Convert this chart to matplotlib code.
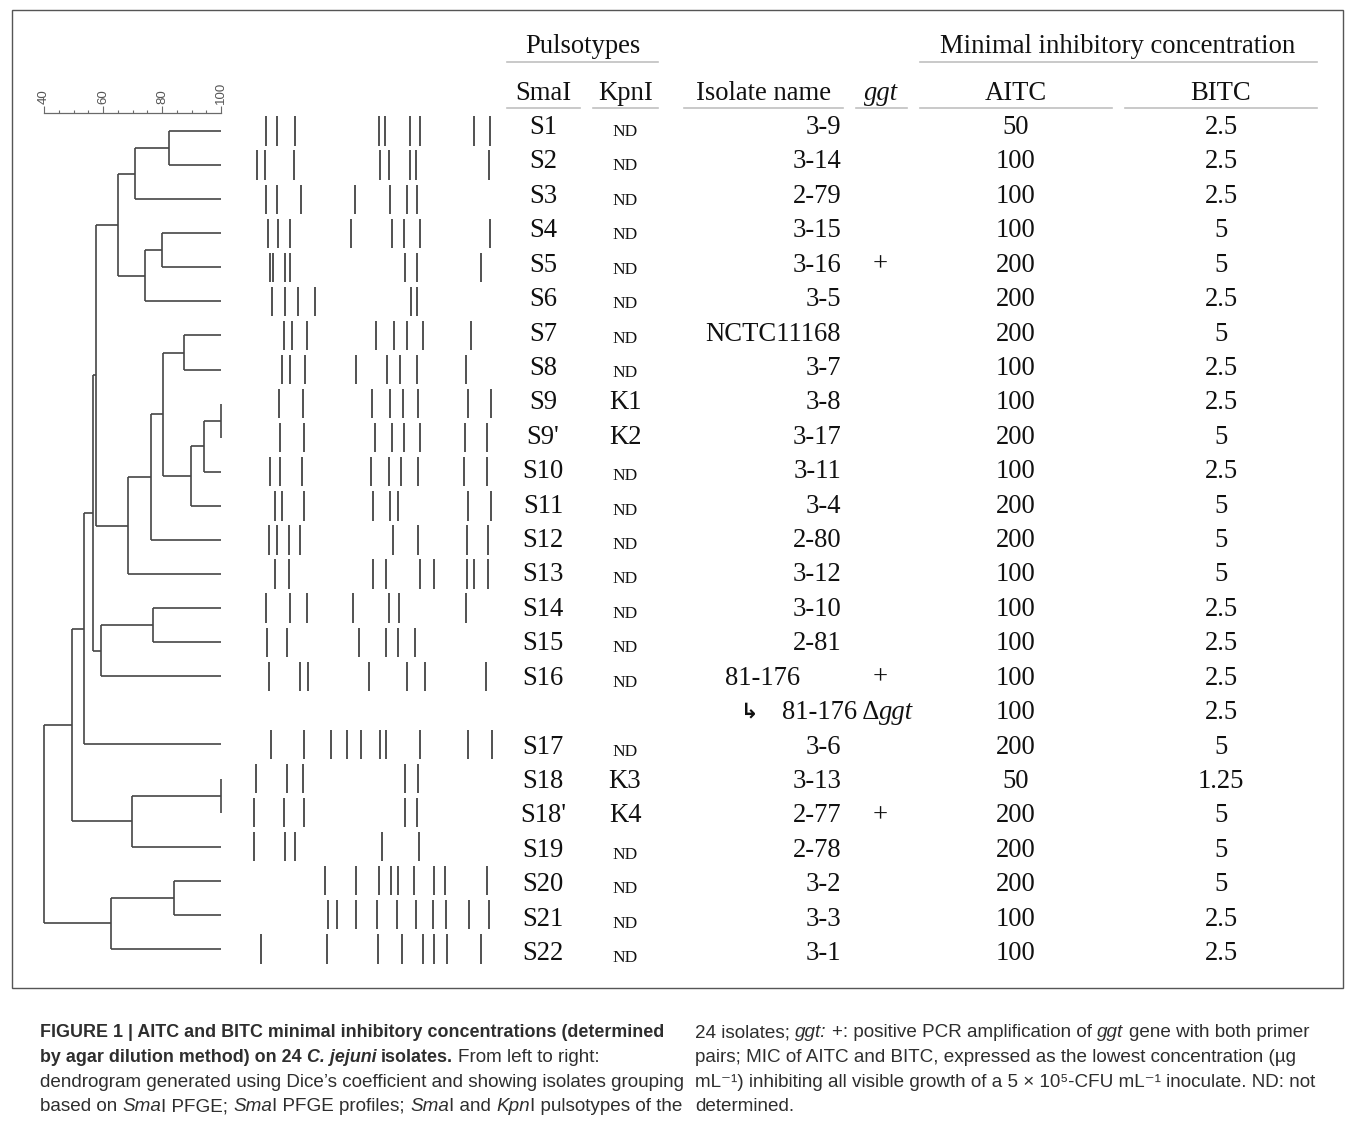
import matplotlib
matplotlib.use("Agg")
import matplotlib.pyplot as plt
from matplotlib.patches import Rectangle

# ---------------- data ----------------
smaI = ["S1", "S2", "S3", "S4", "S5", "S6", "S7", "S8", "S9", "S9'", "S10", "S11",
        "S12", "S13", "S14", "S15", "S16", "", "S17", "S18", "S18'", "S19", "S20",
        "S21", "S22"]
kpnI = ["ND"] * 8 + ["K1", "K2"] + ["ND"] * 7 + [""] + ["ND", "K3", "K4"] + ["ND"] * 4
isolates = ["3-9", "3-14", "2-79", "3-15", "3-16", "3-5", "NCTC11168", "3-7", "3-8",
            "3-17", "3-11", "3-4", "2-80", "3-12", "3-10", "2-81", "81-176",
            "81-176 Δggt", "3-6", "3-13", "2-77", "2-78", "3-2", "3-3", "3-1"]
ggt = ["", "", "", "", "+", "", "", "", "", "", "", "", "", "", "", "", "+", "", "",
       "", "+", "", "", "", ""]
aitc = [50, 100, 100, 100, 200, 200, 200, 100, 100, 200, 100, 200, 200, 100, 100, 100,
        100, 100, 200, 50, 200, 200, 200, 100, 100]
bitc = [2.5, 2.5, 2.5, 5, 5, 2.5, 5, 2.5, 2.5, 5, 2.5, 5, 5, 5, 2.5, 2.5, 2.5, 2.5, 5,
        1.25, 5, 5, 5, 2.5, 2.5]

# SmaI PFGE band positions (relative migration units, 0-250)
bands = {
    "S1": [16, 27, 44.7, 128.7, 135.3, 160.3, 170, 224, 240],
    "S2": [6.7, 15, 44, 130.3, 138.7, 160, 165.7, 239.3],
    "S3": [15.7, 27, 51.3, 104.7, 139.7, 157.3, 166.7],
    "S4": [18, 28, 39.7, 101, 142, 153.7, 170.3, 239.7],
    "S5": [20.3, 23.3, 34.7, 39.7, 155, 166.7, 231],
    "S6": [22.3, 34.7, 47.7, 65.3, 161.3, 167],
    "S7": [33.7, 41.7, 56.7, 125.7, 144.3, 156.7, 173, 221.3],
    "S8": [31.7, 40, 55, 105.7, 137.3, 149.7, 167.3, 215.7],
    "S9": [29, 52.7, 122.3, 139.7, 153.3, 168, 217.7, 240.7],
    "S9'": [29.7, 54, 125, 142, 153.7, 170.3, 215, 237],
    "S10": [19.7, 30.3, 52.3, 121, 138.7, 151, 168, 214.3, 237],
    "S11": [24.7, 32, 54, 122.7, 139.7, 148, 218, 241.3],
    "S12": [18.7, 26.7, 39.3, 50, 143.3, 168.3, 217, 238],
    "S13": [24.7, 39.3, 123.3, 136.3, 170, 184.3, 217, 224, 238],
    "S14": [16.3, 40, 57, 102.7, 138.7, 148.7, 216],
    "S15": [16.7, 36.7, 109, 135.7, 148, 164.7],
    "S16": [19.3, 50.3, 58, 118.7, 157.3, 175, 236],
    "S17": [21.3, 54, 80.7, 97, 110.7, 129.7, 135.7, 170.3, 218.3, 242],
    "S18": [5.7, 36.7, 53, 154.7, 167.7],
    "S18'": [4.3, 33.7, 54, 155, 167],
    "S19": [4.3, 34.7, 45.3, 132.3, 169.3],
    "S20": [75, 105.7, 128.7, 140.7, 147.7, 164, 184.3, 195, 237.3],
    "S21": [77.7, 87.3, 106, 126.7, 146.7, 165.7, 182.7, 196.3, 218.7, 238.7],
    "S22": [10.7, 77.3, 127.7, 151.7, 173, 184.3, 197.3, 230.7],
}

# Dendrogram (Dice similarity, %): (node, child_a, child_b, similarity)
merges = [
    ("n1", "S1", "S2", 82.4), ("n2", "n1", "S3", 70.9),
    ("n3", "S4", "S5", 80.1), ("n4", "n3", "S6", 74.2),
    ("n5", "n2", "n4", 65.0), ("n6", "S7", "S8", 87.5),
    ("n7", "S9", "S9'", 100.0), ("n8", "n7", "S10", 94.1),
    ("n9", "n8", "S11", 89.8), ("n10", "n6", "n9", 80.2),
    ("n11", "n10", "S12", 76.2), ("n12", "n11", "S13", 68.4),
    ("n13", "n5", "n12", 57.6), ("n14", "S14", "S15", 77.0),
    ("n15", "n14", "S16", 59.3), ("n16", "n13", "n15", 56.7),
    ("n17", "n16", "S17", 53.5), ("n18", "S18", "S18'", 100.0),
    ("n19", "n18", "S19", 69.9), ("n20", "n17", "n19", 49.4),
    ("n21", "S20", "S21", 84.2), ("n22", "n21", "S22", 62.7),
    ("n23", "n20", "n22", 40.0),
]
scale_major = [40, 60, 80, 100]
scale_minor = [45, 50, 55, 65, 70, 75, 85, 90, 95]

col_headers = ["SmaI", "KpnI", "Isolate name", "ggt", "AITC", "BITC"]
group_headers = ["Pulsotypes", "Minimal inhibitory concentration"]

# ---------------- figure ----------------
W, H = 1355, 1124
fig = plt.figure(figsize=(W / 100, H / 100), dpi=100)
ax = fig.add_axes([0, 0, 1, 1])
ax.set_xlim(0, W)
ax.set_ylim(H, 0)
ax.axis("off")
renderer = fig.canvas.get_renderer()

SERIF = ["Liberation Serif", "DejaVu Serif", "DejaVu Sans"]
SANS = ["Liberation Sans", "DejaVu Sans"]


def px_axes(x0, x1, y0, y1):
    return fig.add_axes([x0 / W, 1 - y1 / H, (x1 - x0) / W, (y1 - y0) / H])


def runs(x, y, parts, family, size, color, bsize=None):
    """Draw consecutive text runs [(text, style)] starting at x (baseline y)."""
    for txt, style in parts:
        w_ = "bold" if "b" in style else "normal"
        st = "italic" if "i" in style else "normal"
        fs = bsize if (bsize and "b" in style) else size
        probe = ax.text(0, 0, "a a", family=family, fontsize=fs, weight=w_, style=st)
        probe2 = ax.text(0, 0, "aa", family=family, fontsize=fs, weight=w_, style=st)
        sp = probe.get_window_extent(renderer).width - probe2.get_window_extent(renderer).width
        probe.remove(); probe2.remove()
        lead = len(txt) - len(txt.lstrip(" "))
        trail = len(txt) - len(txt.rstrip(" "))
        core = txt.strip(" ")
        x += lead * sp
        if core:
            t = ax.text(x, y, core, family=family, fontsize=fs, weight=w_, style=st,
                        color=color, ha="left", va="baseline")
            x += t.get_window_extent(renderer).width
        x += trail * sp
    return x


# frame
ax.add_patch(Rectangle((12, 10), 1331, 978, fill=False, ec="#555555", lw=1.0))

# ---------------- dendrogram ----------------
ROW0, DROW = 131, 34.08
n = len(smaI)
top_px = 112.7
ytop = -(ROW0 - top_px) / DROW
ybot = n - 0.5
bot_px = ROW0 + ybot * DROW

dax = px_axes(44, 221, top_px, bot_px)
dax.set_xlim(40, 100)
dax.set_ylim(ybot, ytop)
dax.patch.set_alpha(0)
for s in ["left", "right", "bottom"]:
    dax.spines[s].set_visible(False)
dax.spines["top"].set_color("#6a6a6a")
dax.spines["top"].set_linewidth(0.9)
dax.xaxis.set_ticks_position("top")
dax.set_xticks(scale_major)
dax.set_xticks(scale_minor, minor=True)
dax.set_xticklabels([str(v) for v in scale_major], family=["Liberation Sans", "DejaVu Sans"])
dax.tick_params(axis="x", which="major", direction="out", length=5, width=0.8,
                color="#6a6a6a", labelsize=9.5, labelcolor="#555555", pad=1,
                labelrotation=90)
dax.tick_params(axis="x", which="minor", direction="out", length=2.5, width=0.8,
                color="#6a6a6a")
dax.set_yticks([])

pos, xs = {}, {}
for i, name in enumerate(smaI):
    if name:
        pos[name] = i
        xs[name] = 100
DCOL = "#454545"
for node, a, b, sim in merges:
    ya, yb = pos[a], pos[b]
    kw = dict(color=DCOL, lw=1.2, clip_on=False, solid_capstyle="butt")
    dax.plot([sim, sim], [ya, yb], **kw)
    dax.plot([sim, xs[a]], [ya, ya], **kw)
    dax.plot([sim, xs[b]], [yb, yb], **kw)
    pos[node] = (ya + yb) / 2
    xs[node] = sim

# ---------------- PFGE bands ----------------
bax = px_axes(250, 500, top_px, bot_px)
bax.set_xlim(0, 250)
bax.set_ylim(ybot, ytop)
bax.axis("off")
for i, name in enumerate(smaI):
    if name in bands:
        bax.vlines(bands[name], i - 0.43, i + 0.43, color="#333333", lw=1.2)

# ---------------- table ----------------
FS = 19.2
TCOL = "#111111"
ax.text(583, 53, group_headers[0], family=SERIF, fontsize=FS, ha="center", va="baseline", color=TCOL)
ax.text(1118, 53, group_headers[1], family=SERIF, fontsize=FS, ha="center", va="baseline", color=TCOL)
LCOL = "#c0c0c0"
ax.plot([507, 658], [62, 62], color=LCOL, lw=1.2)
ax.plot([920, 1317], [62, 62], color=LCOL, lw=1.2)

hx = [543, 626, 763, 881, 1016, 1221]
hspan = [(507, 580), (593, 658), (684, 843), (856, 907), (920, 1112), (1125, 1317)]
for j, h in enumerate(col_headers):
    ax.text(hx[j], 100, h, family=SERIF, fontsize=FS, ha="center", va="baseline",
            color=TCOL, style="italic" if h == "ggt" else "normal")
    ax.plot(hspan[j], [108, 108], color=LCOL, lw=1.2)

TROW0, TDROW = 134, 34.42
for i in range(n):
    yb = TROW0 + i * TDROW
    if smaI[i]:
        ax.text(543, yb, smaI[i], family=SERIF, fontsize=FS, ha="center", va="baseline", color=TCOL)
    if kpnI[i]:
        small = kpnI[i] == "ND"
        ax.text(625, yb + (2 if small else 0), kpnI[i], family=SERIF,
                fontsize=12.5 if small else FS, ha="center", va="baseline", color=TCOL)
    name = isolates[i]
    if "Δ" in name:
        base, gene = name.split("Δ")
        ax.text(741, yb - 2, "↳", family=["DejaVu Sans"], fontsize=15, weight="bold",
                ha="left", va="baseline", color=TCOL)
        runs(782, yb, [(base + "Δ", ""), (gene, "i")], SERIF, FS, TCOL)
    elif ggt[i] and 10 < i < 18:
        ax.text(763, yb, name, family=SERIF, fontsize=FS, ha="center", va="baseline", color=TCOL)
    else:
        ax.text(841, yb, name, family=SERIF, fontsize=FS, ha="right", va="baseline", color=TCOL)
    if ggt[i]:
        ax.text(880, yb, ggt[i], family=SERIF, fontsize=FS, ha="center", va="baseline", color=TCOL)
    ax.text(1016, yb, f"{aitc[i]:g}", family=SERIF, fontsize=FS, ha="center", va="baseline", color=TCOL)
    ax.text(1221, yb, f"{bitc[i]:g}", family=SERIF, fontsize=FS, ha="center", va="baseline", color=TCOL)

# ---------------- caption ----------------
CFS, CBFS = 13.6, 12.9
CCOL = "#2e2e2e"
cy = [1037, 1062, 1087, 1111]
runs(40, cy[0], [("FIGURE 1 | AITC and BITC minimal inhibitory concentrations (determined", "b")],
     SANS, CFS, CCOL, CBFS)
runs(40, cy[1], [("by agar dilution method) on 24 ", "b"), ("C. jejuni", "bi"),
                 (" isolates.", "b"), (" From left to right:", "")], SANS, CFS, CCOL, CBFS)
runs(40, cy[2], [("dendrogram generated using Dice’s coefficient and showing isolates grouping", "")],
     SANS, CFS, CCOL)
runs(40, cy[3], [("based on ", ""), ("Sma", "i"), ("I PFGE; ", ""), ("Sma", "i"),
                 ("I PFGE profiles; ", ""), ("Sma", "i"), ("I and ", ""), ("Kpn", "i"),
                 ("I pulsotypes of the", "")], SANS, CFS, CCOL)
runs(695, cy[0], [("24 isolates; ", ""), ("ggt:", "i"), (" +: positive PCR amplification of ", ""),
                  ("ggt", "i"), (" gene with both primer", "")], SANS, CFS, CCOL)
runs(695, cy[1], [("pairs; MIC of AITC and BITC, expressed as the lowest concentration (µg", "")],
     SANS, CFS, CCOL)
runs(695, cy[2], [("mL⁻¹) inhibiting all visible growth of a 5 × 10⁵-CFU mL⁻¹ inoculate. ND: not", "")],
     SANS, CFS, CCOL)
runs(695, cy[3], [("determined.", "")], SANS, CFS, CCOL)

fig.savefig("out.png", dpi=100)
